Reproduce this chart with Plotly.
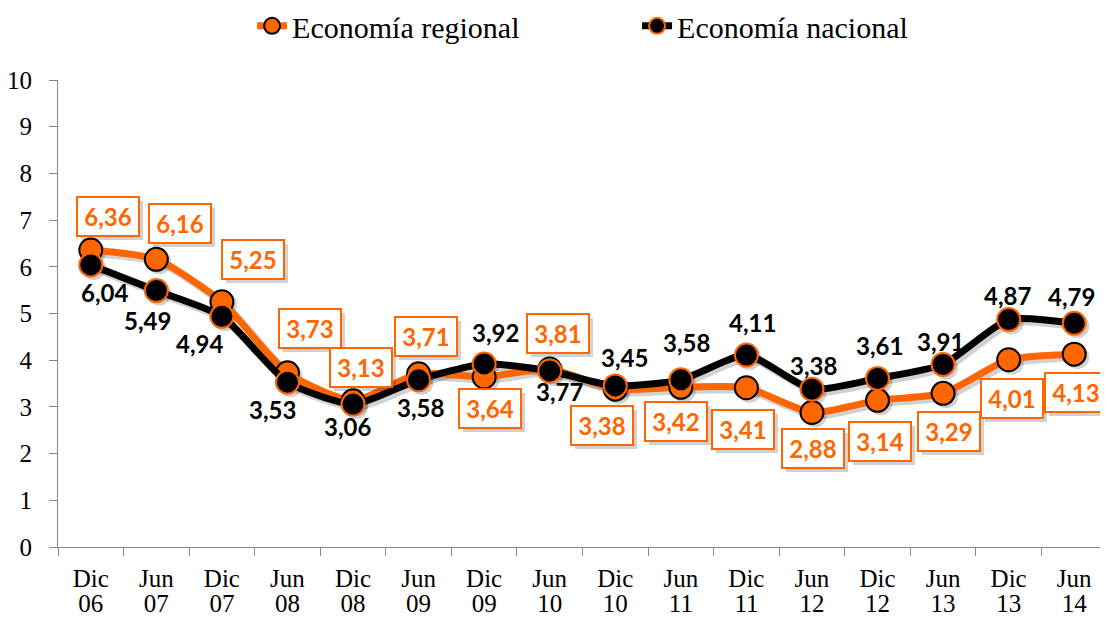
import plotly.graph_objects as go

periods = ["Dic", "Jun", "Dic", "Jun", "Dic", "Jun", "Dic", "Jun",
           "Dic", "Jun", "Dic", "Jun", "Dic", "Jun", "Dic", "Jun"]
years = ["06", "07", "07", "08", "08", "09", "09", "10",
         "10", "11", "11", "12", "12", "13", "13", "14"]
regional = [6.36, 6.16, 5.25, 3.73, 3.13, 3.71, 3.64, 3.81,
            3.38, 3.42, 3.41, 2.88, 3.14, 3.29, 4.01, 4.13]
nacional = [6.04, 5.49, 4.94, 3.53, 3.06, 3.58, 3.92, 3.77,
            3.45, 3.58, 4.11, 3.38, 3.61, 3.91, 4.87, 4.79]

cats = [f"{p} {y}" for p, y in zip(periods, years)]

# label offsets in pixels (dx, dy)
reg_off = [(17, 33), (24, 36), (31, 42), (23, 44), (8, 33), (7, 37), (6, -31), (8, 36),
           (-13, -36), (-5, -34), (-3, -42), (1, -36), (2, -41), (6, -38), (3, -39), (2, -38)]
nac_off = [(14, -28), (-9, -30), (-22, -27), (-15, -27), (-6, -22), (2, -28), (11, 31), (10, -21),
           (9, 28), (6, 37), (6, 33), (2, 24), (2, 33), (-3, 23), (-1, 24), (-3, 27)]

ORANGE = "#FF6600"
BLACK = "#000000"
AXIS = "#868686"
SHADOW = "rgba(0,0,0,0.18)"

W, H = 1100, 610
ML, MR, MT, MB = 50, 1, 72, 71
plot_w = W - ML - MR
plot_h = H - MT - MB
n = len(cats)
XR = [-0.5, n - 0.5]
YR = [0, 10]
# shadow offset (pixels) expressed in axis units for the shifted shadow axes
sx = 3 * (XR[1] - XR[0]) / plot_w
sy = 3 * (YR[1] - YR[0]) / plot_h

def fmt(v):
    return f"{v:.2f}".replace(".", ",")

fig = go.Figure()
# soft shadows (base subplot, shifted ranges)
for vals in (regional, nacional):
    fig.add_trace(go.Scatter(
        x=cats, y=vals, xaxis="x", yaxis="y", mode="lines+markers", showlegend=False,
        hoverinfo="skip",
        line=dict(color=SHADOW, width=8, shape="spline", smoothing=0.6),
        marker=dict(size=24, color=SHADOW, line=dict(width=0)),
    ))
# main series
fig.add_trace(go.Scatter(
    x=cats, y=regional, name="Economía regional", mode="lines+markers",
    xaxis="x2", yaxis="y2",
    line=dict(color=ORANGE, width=7, shape="spline", smoothing=0.6),
    marker=dict(size=23, color=ORANGE, line=dict(color=BLACK, width=2)),
))
fig.add_trace(go.Scatter(
    x=cats, y=nacional, name="Economía nacional", mode="lines+markers",
    xaxis="x2", yaxis="y2",
    line=dict(color=BLACK, width=7, shape="spline", smoothing=0.6),
    marker=dict(size=23, color=BLACK, line=dict(color=ORANGE, width=2)),
))
# invisible trace carrying the second row of x tick labels (years)
fig.add_trace(go.Scatter(
    x=cats, y=[None] * n, xaxis="x3", yaxis="y2", showlegend=False,
    hoverinfo="skip", mode="markers", marker=dict(opacity=0),
))

annots = []
for c, v, (dx, dy) in zip(cats, regional, reg_off):
    annots.append(dict(x=c, y=v, xref="x2", yref="y2", text="", showarrow=False,
                       xshift=dx + 4, yshift=dy - 4, width=60, height=37,
                       bgcolor="rgba(0,0,0,0.18)", borderpad=0, borderwidth=2,
                       bordercolor="rgba(0,0,0,0)"))
    annots.append(dict(x=c, y=v, xref="x2", yref="y2", text=fmt(v), showarrow=False,
                       xshift=dx, yshift=dy, width=60, height=37,
                       bgcolor="white", bordercolor=ORANGE, borderwidth=2, borderpad=0,
                       font=dict(family="Lato", size=24, color=ORANGE, weight="bold")))
for c, v, (dx, dy) in zip(cats, nacional, nac_off):
    annots.append(dict(x=c, y=v, xref="x2", yref="y2", text=fmt(v), showarrow=False,
                       xshift=dx, yshift=dy,
                       font=dict(family="Lato", size=24, color=BLACK, weight="bold")))

hidden = dict(showline=False, showgrid=False, zeroline=False, ticks="",
              showticklabels=False, automargin=False)

fig.update_layout(
    width=W, height=H,
    margin=dict(l=ML, r=MR, t=MT, b=MB, autoexpand=False),
    paper_bgcolor="white", plot_bgcolor="white",
    font=dict(family="Liberation Serif", color="black"),
    showlegend=True,
    legend=dict(orientation="h", x=0.185, xanchor="left", y=1.116, yanchor="middle",
                font=dict(family="Liberation Serif", size=30, color="black"),
                entrywidth=340, entrywidthmode="pixels",
                bgcolor="rgba(0,0,0,0)"),
    annotations=annots,
    xaxis=dict(type="category", categoryarray=cats,
               range=[XR[0] - sx, XR[1] - sx], **hidden),
    yaxis=dict(range=[YR[0] + sy, YR[1] + sy], **hidden),
    xaxis2=dict(
        type="category", categoryarray=cats, range=XR, overlaying="x", anchor="y2",
        side="bottom", tickson="boundaries",
        tickmode="array", tickvals=cats, ticktext=periods,
        ticks="outside", ticklen=8, tickcolor=AXIS, tickwidth=1,
        showline=True, linecolor=AXIS, linewidth=1, showgrid=False, zeroline=False,
        tickfont=dict(family="Liberation Serif", size=25, color="black"),
        ticklabelstandoff=9, automargin=False,
    ),
    xaxis3=dict(
        type="category", categoryarray=cats, range=XR, overlaying="x",
        side="bottom", anchor="y2", tickmode="array", tickvals=cats, ticktext=years,
        ticks="", showline=False, showgrid=False, zeroline=False,
        tickfont=dict(family="Liberation Serif", size=25, color="black"),
        ticklabelstandoff=39, automargin=False,
    ),
    yaxis2=dict(
        range=YR, dtick=1, overlaying="y", anchor="x2", side="left",
        ticks="outside", ticklen=8, tickcolor=AXIS,
        showline=True, linecolor=AXIS, linewidth=1, showgrid=False, zeroline=False,
        tickfont=dict(family="Liberation Serif", size=25, color="black"),
        ticklabelstandoff=12, automargin=False,
    ),
)

fig.write_html("out.html")
